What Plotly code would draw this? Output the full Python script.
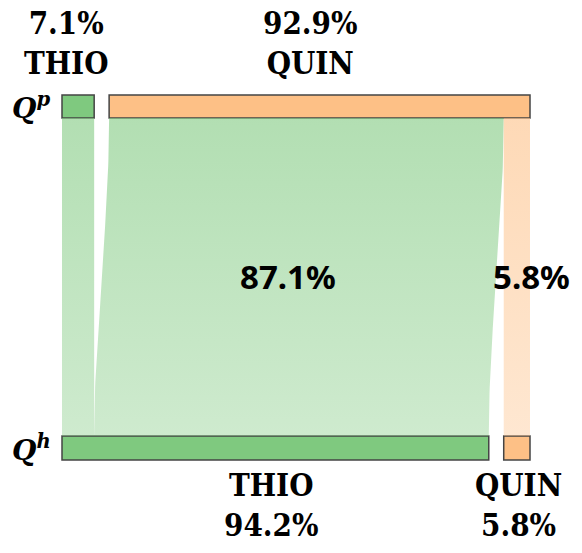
import plotly.graph_objects as go
import numpy as np

# ---- data ----
categories = ["THIO", "QUIN"]
top_values = [7.1, 92.9]        # Q^p shares (%)
bottom_values = [94.2, 5.8]     # Q^h shares (%)
flow_source = ["THIO", "QUIN", "QUIN"]
flow_target = ["THIO", "THIO", "QUIN"]
flow_values = [7.1, 87.1, 5.8]
flow_labels_shown = [False, True, True]
row_labels = ["<b><i>Q</i></b><b><i><sup>p</sup></i></b>", "<b><i>Q</i></b><b><i><sup>h</sup></i></b>"]

# ---- style / layout ----
W, H = 582, 553
GAP = 3.3
colors = {"THIO": "#7fc97f", "QUIN": "#fdc086"}
flow_rgb = {"THIO": (127, 201, 127), "QUIN": (253, 192, 134)}
edge = "#444444"
TOP_Y0, TOP_Y1 = 95, 118
BOT_Y0, BOT_Y1 = 436, 460
X_LEFT_PX, X_RIGHT_PX = 62, 530
total = 100 + GAP
ppu = (X_RIGHT_PX - X_LEFT_PX) / total
x_range = [-X_LEFT_PX / ppu, (W - X_LEFT_PX) / ppu]

serif = "DejaVu Serif Condensed, DejaVu Serif, serif"
sans = "Noto Sans, Open Sans, sans-serif"

def starts(values):
    s, out = 0.0, []
    for v in values:
        out.append(s)
        s += v + GAP
    return out

top_start = dict(zip(categories, starts(top_values)))
bot_start = dict(zip(categories, starts(bottom_values)))
top_val = dict(zip(categories, top_values))
bot_val = dict(zip(categories, bottom_values))

fig = go.Figure()

# flows
top_cursor = dict(top_start)
bot_cursor = dict(bot_start)
t = np.linspace(0, 1, 60)
s = 3 * t**2 - 2 * t**3
ys = TOP_Y1 + (BOT_Y0 - TOP_Y1) * t
flow_centers = []
for src, tgt, v, show in zip(flow_source, flow_target, flow_values, flow_labels_shown):
    a0 = top_cursor[src]; b0 = bot_cursor[tgt]
    top_cursor[src] += v; bot_cursor[tgt] += v
    left = a0 + (b0 - a0) * s
    right = (a0 + v) + ((b0 + v) - (a0 + v)) * s
    xs = np.concatenate([left, right[::-1], left[:1]])
    yy = np.concatenate([ys, ys[::-1], ys[:1]])
    r, g, b = flow_rgb[tgt]
    fig.add_trace(go.Scatter(
        x=xs, y=yy, mode="lines", fill="toself", line=dict(width=0),
        fillgradient=dict(type="vertical", colorscale=[
            [0, f"rgba({r},{g},{b},0.38)"], [1, f"rgba({r},{g},{b},0.6)"]]),
        hoverinfo="skip", showlegend=False))
    if show:
        flow_centers.append(((a0 + b0) / 2 + v / 2, v))

# bars
for cat in categories:
    fig.add_trace(go.Bar(
        x=[top_val[cat]], base=[top_start[cat]], y=[(TOP_Y0 + TOP_Y1) / 2],
        width=[TOP_Y1 - TOP_Y0], orientation="h",
        marker=dict(color=colors[cat], line=dict(color=edge, width=1.5)),
        showlegend=False, hoverinfo="skip"))
    fig.add_trace(go.Bar(
        x=[bot_val[cat]], base=[bot_start[cat]], y=[(BOT_Y0 + BOT_Y1) / 2],
        width=[BOT_Y1 - BOT_Y0], orientation="h",
        marker=dict(color=colors[cat], line=dict(color=edge, width=1.5)),
        showlegend=False, hoverinfo="skip"))

ann = []
label_font = dict(family=serif, size=31, color="black", weight="bold")
top_shift = {"THIO": -12, "QUIN": -10}
for cat in categories:
    cx = top_start[cat] + top_val[cat] / 2
    ann.append(dict(x=cx, y=TOP_Y0 - 12, xref="x", yref="y",
                    text=f"{top_val[cat]:.1f}%<br>{cat}", showarrow=False,
                    yanchor="bottom", xshift=top_shift[cat], font=label_font))
    cx = bot_start[cat] + bot_val[cat] / 2
    ann.append(dict(x=cx, y=BOT_Y1 + 5, xref="x", yref="y",
                    text=f"{cat}<br>{bot_val[cat]:.1f}%", showarrow=False,
                    yanchor="top", xshift=-4 if cat == "THIO" else 2, font=label_font))

flow_shift = [-11, 15]
for (cx, v), dx in zip(flow_centers, flow_shift):
    ann.append(dict(x=cx, y=(TOP_Y1 + BOT_Y0) / 2 - 1, xref="x", yref="y",
                    text=f"{v:.1f}%", showarrow=False, xshift=dx,
                    font=dict(family=sans, size=33, color="black", weight="bold")))

for lbl, yc in zip(row_labels, [(TOP_Y0 + TOP_Y1) / 2, (BOT_Y0 + BOT_Y1) / 2]):
    ann.append(dict(x=x_range[0] + 31 / ppu, y=yc, xref="x", yref="y", text=lbl,
                    showarrow=False, font=dict(family="DejaVu Serif, serif", size=28, color="black")))

fig.update_layout(
    width=W, height=H, margin=dict(l=0, r=0, t=0, b=0),
    paper_bgcolor="white", plot_bgcolor="white", barmode="overlay",
    xaxis=dict(range=x_range, visible=False, fixedrange=True),
    yaxis=dict(range=[H, 0], visible=False, fixedrange=True),
    annotations=ann,
)
fig.write_html(
    "out.html",
    config={"displayModeBar": False},
    post_script="document.body.style.margin='0';document.documentElement.style.overflow='hidden';",
)
